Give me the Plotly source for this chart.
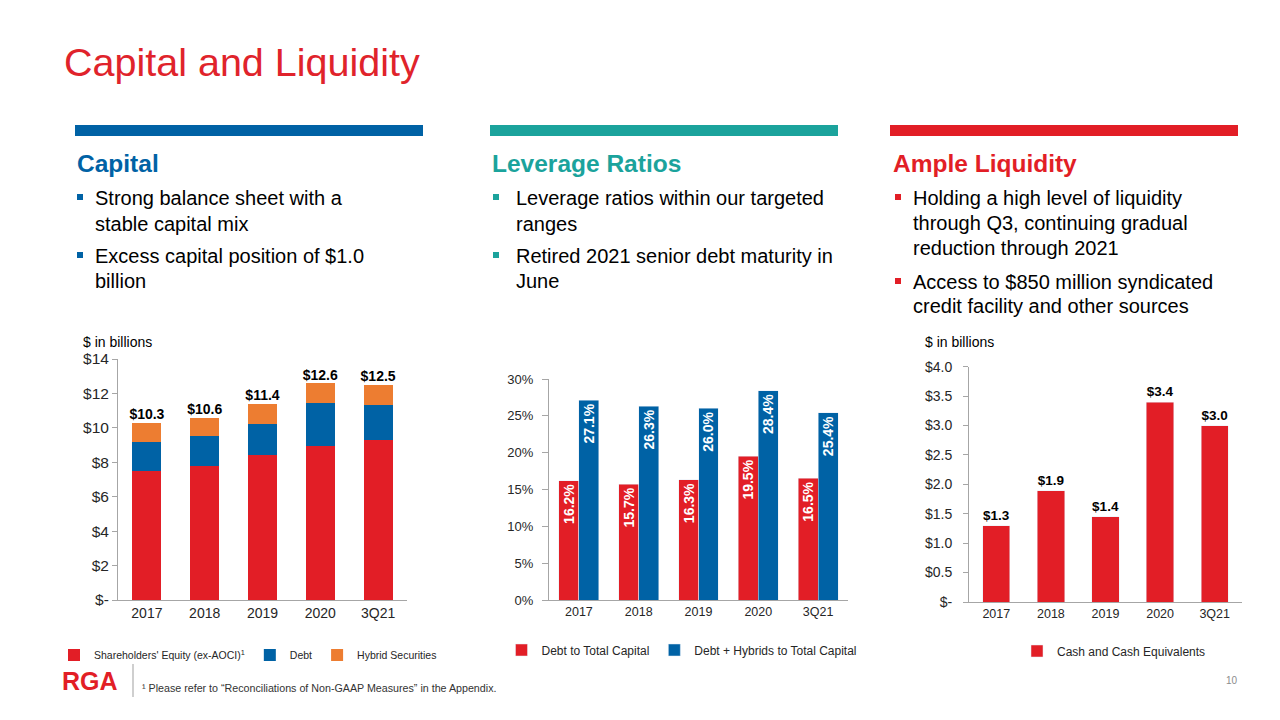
import plotly.graph_objects as go

# ---------------- data ----------------
categories = ["2017", "2018", "2019", "2020", "3Q21"]

equity = [7.5, 7.8, 8.4, 8.95, 9.3]
debt = [1.7, 1.7, 1.85, 2.5, 2.05]
hybrid = [1.1, 1.1, 1.15, 1.15, 1.15]
total_labels = ["$10.3", "$10.6", "$11.4", "$12.6", "$12.5"]

debt_to_cap = [0.162, 0.157, 0.163, 0.195, 0.165]
debt_hyb_to_cap = [0.271, 0.263, 0.260, 0.284, 0.254]

cash = [1.3, 1.89, 1.45, 3.4, 3.0]
cash_labels = ["$1.3", "$1.9", "$1.4", "$3.4", "$3.0"]

cap_tickvals = [0, 2, 4, 6, 8, 10, 12, 14]
cap_ticktext = ["$-", "$2", "$4", "$6", "$8", "$10", "$12", "$14"]
lev_tickvals = [0, 0.05, 0.10, 0.15, 0.20, 0.25, 0.30]
lev_ticktext = ["0%", "5%", "10%", "15%", "20%", "25%", "30%"]
cash_tickvals = [0, 0.5, 1.0, 1.5, 2.0, 2.5, 3.0, 3.5, 4.0]
cash_ticktext = ["$-", "$0.5", "$1.0", "$1.5", "$2.0", "$2.5", "$3.0", "$3.5", "$4.0"]

# ---------------- styles ----------------
FONT = "Liberation Sans, Arial, sans-serif"
RED = "#E21E26"
BLUE = "#0062A5"
ORANGE = "#ED7D31"
TEAL = "#1BA39C"
AXIS = "#A6A6A6"
TXT = "#262626"
W, H = 1280, 720
OFF = 8  # page body margin


def px(x):
    return (x - OFF) / W


def py(y):
    return 1 - (y - OFF) / H


fig = go.Figure()

# ---- Capital (stacked) ----
fig.add_trace(go.Bar(x=categories, y=equity, name="Shareholders' Equity (ex-AOCI)<sup>1</sup>",
                     marker=dict(color=RED, line=dict(width=0)), xaxis="x", yaxis="y",
                     legend="legend", hoverinfo="skip", width=0.5, offsetgroup="cap"))
fig.add_trace(go.Bar(x=categories, y=debt, name="Debt",
                     marker=dict(color=BLUE, line=dict(width=0)), xaxis="x", yaxis="y",
                     legend="legend", hoverinfo="skip", width=0.5, offsetgroup="cap"))
fig.add_trace(go.Bar(x=categories, y=hybrid, name="Hybrid Securities",
                     marker=dict(color=ORANGE, line=dict(width=0)), xaxis="x", yaxis="y",
                     legend="legend", hoverinfo="skip", width=0.5, offsetgroup="cap"))
totals = [e + d + h for e, d, h in zip(equity, debt, hybrid)]
fig.add_trace(go.Scatter(x=categories, y=totals, mode="text", text=total_labels,
                         textposition="top center",
                         textfont=dict(family=FONT, size=14, color="#000000", weight="bold"),
                         xaxis="x", yaxis="y", showlegend=False, hoverinfo="skip", cliponaxis=False))

# ---- Leverage ratios ----
lev_font = dict(family=FONT, size=14, color="white", weight="bold")
fig.add_trace(go.Bar(x=categories, y=debt_to_cap, name="Debt to Total Capital",
                     marker=dict(color=RED), xaxis="x2", yaxis="y2", legend="legend2",
                     width=0.333, offset=-0.333, offsetgroup="lev1",
                     text=[f"{v*100:.1f}%" for v in debt_to_cap], textposition="inside",
                     insidetextanchor="end", textangle=-90, textfont=lev_font,
                     constraintext="none", hoverinfo="skip"))
fig.add_trace(go.Bar(x=categories, y=debt_hyb_to_cap, name="Debt + Hybrids to Total Capital",
                     marker=dict(color=BLUE), xaxis="x2", yaxis="y2", legend="legend2",
                     width=0.333, offset=0.0, offsetgroup="lev2",
                     text=[f"{v*100:.1f}%" for v in debt_hyb_to_cap], textposition="inside",
                     insidetextanchor="end", textangle=-90, textfont=lev_font,
                     constraintext="none", hoverinfo="skip"))

# ---- Cash ----
fig.add_trace(go.Bar(x=categories, y=cash, name="Cash and Cash Equivalents",
                     marker=dict(color=RED), xaxis="x3", yaxis="y3", legend="legend3",
                     width=0.5, offsetgroup="cash", text=cash_labels, textposition="outside",
                     textfont=dict(family=FONT, size=13.5, color="#000000", weight="bold"),
                     cliponaxis=False, hoverinfo="skip"))

axis_common = dict(showgrid=False, zeroline=False, showline=True, linecolor=AXIS, linewidth=1,
                   automargin=False)

fig.update_layout(
    width=W, height=H, autosize=False,
    margin=dict(l=0, r=0, t=0, b=0, pad=0, autoexpand=False),
    paper_bgcolor="white", plot_bgcolor="white",
    font=dict(family=FONT, color=TXT),
    barmode="stack",
    showlegend=True,
    xaxis=dict(domain=[px(118), px(407)], anchor="y", type="category",
               tickfont=dict(size=14, color=TXT), ticks="", **axis_common),
    yaxis=dict(domain=[py(600), py(359)], anchor="x", range=[0, 14],
               tickvals=cap_tickvals, ticktext=cap_ticktext,
               tickfont=dict(size=15.5, color=TXT), ticks="outside", ticklen=5, tickcolor=AXIS,
               **axis_common),
    xaxis2=dict(domain=[px(549), px(848)], anchor="y2", type="category",
                tickfont=dict(size=12.5, color=TXT), ticks="", **axis_common),
    yaxis2=dict(domain=[py(600), py(379)], anchor="x2", range=[0, 0.30],
                tickvals=lev_tickvals, ticktext=lev_ticktext,
                tickfont=dict(size=13, color=TXT), ticks="outside", ticklen=6, tickcolor=AXIS,
                ticklabelstandoff=6, **axis_common),
    xaxis3=dict(domain=[px(969), px(1242)], anchor="y3", type="category",
                tickfont=dict(size=12.5, color=TXT), ticks="", **axis_common),
    yaxis3=dict(domain=[py(602), py(366.7)], anchor="x3", range=[0, 4.0],
                tickvals=cash_tickvals, ticktext=cash_ticktext,
                tickfont=dict(size=14, color=TXT), ticks="outside", ticklen=5, tickcolor=AXIS,
                ticklabelstandoff=8, **axis_common),
    legend=dict(orientation="h", x=px(248), xanchor="center", y=py(655), yanchor="middle",
                font=dict(size=10.5, color=TXT), bgcolor="rgba(0,0,0,0)", traceorder="normal",
                itemclick=False, itemdoubleclick=False),
    legend2=dict(orientation="h", x=px(682), xanchor="center", y=py(650), yanchor="middle",
                 font=dict(size=12, color=TXT), bgcolor="rgba(0,0,0,0)", traceorder="normal",
                 itemclick=False, itemdoubleclick=False),
    legend3=dict(orientation="h", x=px(1114), xanchor="center", y=py(651), yanchor="middle",
                 font=dict(size=12, color=TXT), bgcolor="rgba(0,0,0,0)",
                 itemclick=False, itemdoubleclick=False),
)

annotations = []
shapes = []


def text(x, y, s, size, color=TXT, bold=False, xanchor="left", yanchor="middle", family=FONT):
    annotations.append(dict(
        x=px(x), y=py(y), xref="paper", yref="paper", text=s, showarrow=False,
        xanchor=xanchor, yanchor=yanchor,
        font=dict(family=family, size=size, color=color, weight="bold" if bold else "normal")))


# Title
text(62, 62, "Capital and Liquidity", 39.5, color="#E0232B")

# Section bars
for x0, x1, c in [(75, 423, BLUE), (490, 838, TEAL), (890, 1238, RED)]:
    shapes.append(dict(type="rect", xref="paper", yref="paper", x0=px(x0), x1=px(x1),
                       y0=py(136), y1=py(125), fillcolor=c, line=dict(width=0)))

# Headers
text(75, 163, "Capital", 24.5, color=BLUE, bold=True)
text(490, 163, "Leverage Ratios", 24.5, color=TEAL, bold=True)
text(891, 163, "Ample Liquidity", 24.5, color=RED, bold=True)


def bullet(cx, cy, color):
    shapes.append(dict(type="rect", xref="paper", yref="paper", x0=px(cx - 3), x1=px(cx + 3),
                       y0=py(cy + 3), y1=py(cy - 3), fillcolor=color, line=dict(width=0)))


col_text = [
    (80, 93, BLUE, [[("Strong balance sheet with a", 198), ("stable capital mix", 224)],
                    [("Excess capital position of $1.0", 256), ("billion", 281)]]),
    (496, 514, TEAL, [[("Leverage ratios within our targeted", 198), ("ranges", 224)],
                      [("Retired 2021 senior debt maturity in", 256), ("June", 281)]]),
    (898, 911, RED, [[("Holding a high level of liquidity", 198), ("through Q3, continuing gradual", 223),
                      ("reduction through 2021", 248)],
                     [("Access to $850 million syndicated", 282), ("credit facility and other sources", 306)]]),
]
for bx, tx, color, items in col_text:
    for item in items:
        bullet(bx, item[0][1] - 1, color)
        for s, y in item:
            text(tx, y, s, 20, color="#000000")

# "$ in billions"
text(81, 342, "$ in billions", 14, color="#000000")
text(923, 342, "$ in billions", 14, color="#000000")

# Footer
text(60, 681, "RGA", 25, color=RED, bold=True)
shapes.append(dict(type="line", xref="paper", yref="paper", x0=px(133), x1=px(133),
                   y0=py(664), y1=py(697), line=dict(color="#BFBFBF", width=1.5)))
text(140, 688, "¹ Please refer to “Reconciliations of Non-GAAP Measures” in the Appendix.", 10.7,
     color="#333333")
text(1232, 680, "10", 10, color="#8C8C8C", xanchor="center")

fig.update_layout(annotations=annotations, shapes=shapes)

fig.write_html("out.html")
